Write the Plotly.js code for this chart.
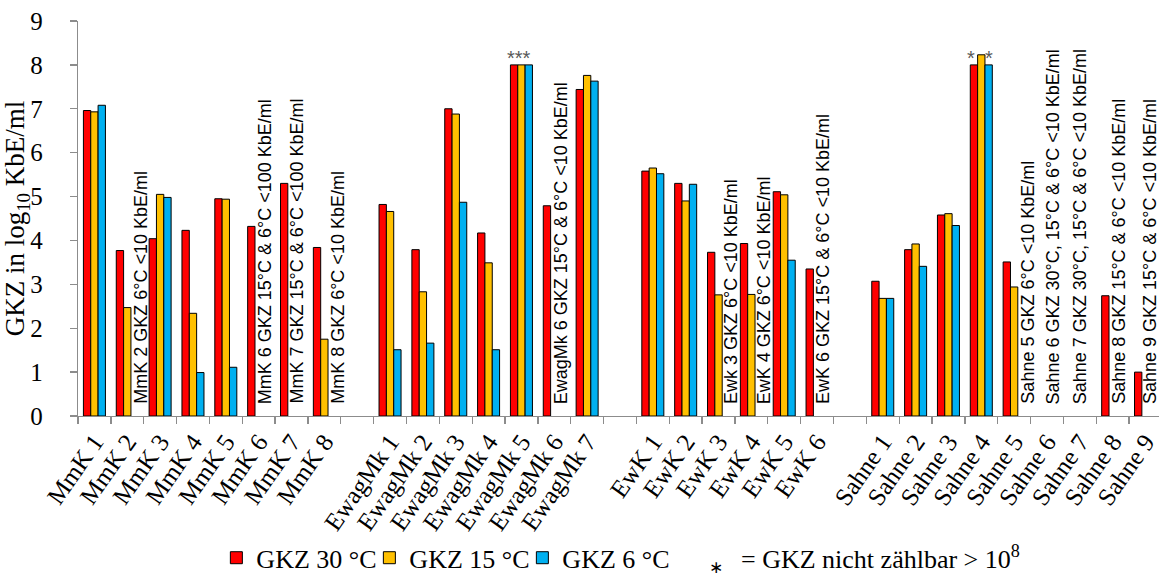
<!DOCTYPE html>
<html>
<head>
<meta charset="utf-8">
<script src="https://cdn.plot.ly/plotly-3.0.1.min.js"></script>
<style>
  html, body { margin: 0; padding: 0; background: #ffffff; }
  #chart { width: 1159px; height: 582px; }
</style>
</head>
<body>
<div id="chart"></div>
<script>
// Sample groups (categories)
var mmkCats   = ["MmK 1", "MmK 2", "MmK 3", "MmK 4", "MmK 5", "MmK 6", "MmK 7", "MmK 8"];
var ewagCats  = ["EwagMk 1", "EwagMk 2", "EwagMk 3", "EwagMk 4", "EwagMk 5", "EwagMk 6", "EwagMk 7"];
var ewkCats   = ["EwK 1", "EwK 2", "EwK 3", "EwK 4", "EwK 5", "EwK 6"];
var sahneCats = ["Sahne 1", "Sahne 2", "Sahne 3", "Sahne 4", "Sahne 5", "Sahne 6", "Sahne 7", "Sahne 8", "Sahne 9"];
// empty spacer categories between the sample groups
var spacerCats = [" ", "  ", "   "];

// GKZ in log10 KbE/ml, 30 °C / 15 °C / 6 °C
var mmk30 = [6.96, 3.77, 4.04, 4.23, 4.95, 4.32, 5.30, 3.84];
var mmk15 = [6.93, 2.47, 5.05, 2.34, 4.94, null, null, 1.75];
var mmk6  = [7.08, null, 4.98, 0.99, 1.11, null, null, null];

var ewag30 = [4.82, 3.79, 7.00, 4.17, 8.00, 4.79, 7.44];
var ewag15 = [4.66, 2.83, 6.88, 3.49, 8.00, null, 7.76];
var ewag6  = [1.51, 1.66, 4.87, 1.51, 8.00, null, 7.63];

var ewk30 = [5.58, 5.30, 3.73, 3.93, 5.11, 3.35];
var ewk15 = [5.65, 4.90, 2.76, 2.77, 5.04, null];
var ewk6  = [5.52, 5.28, null, null, 3.55, null];

var sahne30 = [3.07, 3.79, 4.58, 8.00, 3.51, null, null, 2.74, 1.00];
var sahne15 = [2.68, 3.92, 4.61, 8.23, 2.94, null, null, null, null];
var sahne6  = [2.68, 3.41, 4.34, 8.00, null, null, null, null, null];

var seriesNames = ["GKZ 30 °C", "GKZ 15 °C", "GKZ 6 °C"];
var yTickVals = [0, 1, 2, 3, 4, 5, 6, 7, 8, 9];

// notes for samples below the detection limit
var noteCats = ["MmK 2", "MmK 6", "MmK 7", "MmK 8", "EwagMk 6", "EwK 3", "EwK 4", "EwK 6",
                "Sahne 5", "Sahne 6", "Sahne 7", "Sahne 8", "Sahne 9"];
var noteTexts = [
  "MmK 2 GKZ 6°C &lt;10 KbE/ml",
  "MmK 6 GKZ 15°C &amp; 6°C &lt;100 KbE/ml",
  "MmK 7 GKZ 15°C &amp; 6°C &lt;100 KbE/ml",
  "MmK 8 GKZ 6°C &lt;10 KbE/ml",
  "EwagMk 6 GKZ 15°C &amp; 6°C &lt;10 KbE/ml",
  "Ewk 3 GKZ 6°C &lt;10 KbE/ml",
  "EwK 4 GKZ 6°C &lt;10 KbE/ml",
  "EwK 6 GKZ 15°C &amp; 6°C &lt;10 KbE/ml",
  "Sahne 5 GKZ 6°C &lt;10 KbE/ml",
  "Sahne 6 GKZ 30°C, 15°C &amp; 6°C &lt;10 KbE/ml",
  "Sahne 7 GKZ 30°C, 15°C &amp; 6°C &lt;10 KbE/ml",
  "Sahne 8 GKZ 15°C &amp; 6°C &lt;10 KbE/ml",
  "Sahne 9 GKZ 15°C &amp; 6°C &lt;10 KbE/ml"
];
// horizontal offsets of the note columns (px)
var noteShift = [13, 6, 4.5, 13, 7, 12, 13, 6, 13, 6, 0, 5.5, 4];

// "not countable" markers
var starCats  = ["EwagMk 5", "Sahne 4", "Sahne 4"];
var starTexts = ["***", "*", "*"];
var starVals  = [ewag30[4], sahne30[3], sahne6[3]];
var starShift = [-2, -10, 8];

var footStar = "\u2217";
var footText = "= GKZ nicht zählbar &gt; 10<sup>8</sup>";

var cats = [].concat(mmkCats, [spacerCats[0]], ewagCats, [spacerCats[1]], ewkCats, [spacerCats[2]], sahneCats);
function joinSeries(a, b, c, d) {
  return [].concat(a, [null], b, [null], c, [null], d);
}
var v30 = joinSeries(mmk30, ewag30, ewk30, sahne30);
var v15 = joinSeries(mmk15, ewag15, ewk15, sahne15);
var v6  = joinSeries(mmk6, ewag6, ewk6, sahne6);

var colors = ["#FF0000", "#FFC000", "#00B0F0"];
var traces = [v30, v15, v6].map(function (vals, i) {
  return {
    type: "bar",
    x: cats,
    y: vals,
    name: seriesNames[i],
    marker: { color: colors[i], line: { color: "#000000", width: 1 } },
    hoverinfo: "x+y"
  };
});

var serif = "Liberation Serif, Times New Roman, serif";
var sans = "Liberation Sans, Arial, sans-serif";

var annotations = [];
noteCats.forEach(function (c, i) {
  annotations.push({
    x: c, y: 0, xref: "x", yref: "y",
    text: noteTexts[i], showarrow: false, textangle: -90,
    xanchor: "center", yanchor: "bottom", xshift: noteShift[i], yshift: 10,
    font: { family: sans, size: 18, color: "#000000" }
  });
});
starCats.forEach(function (c, i) {
  annotations.push({
    x: c, y: starVals[i], xref: "x", yref: "y",
    text: starTexts[i], showarrow: false,
    xanchor: "center", yanchor: "bottom", xshift: starShift[i], yshift: -6,
    font: { family: sans, size: 20, color: "#595959" }
  });
});
annotations.push({
  xref: "paper", yref: "paper", x: 0.590, y: -0.359,
  xanchor: "center", yanchor: "middle", showarrow: false, yshift: -9,
  text: footStar,
  font: { family: "DejaVu Sans, sans-serif", size: 17, color: "#000000" }
});
annotations.push({
  xref: "paper", yref: "paper", x: 0.6115, y: -0.359,
  xanchor: "left", yanchor: "middle", showarrow: false,
  text: footText,
  font: { family: serif, size: 26, color: "#000000" }
});

var layout = {
  width: 1159, height: 582,
  margin: { l: 78, r: 0, t: 21, b: 166 },
  paper_bgcolor: "#ffffff", plot_bgcolor: "#ffffff",
  barmode: "group", bargap: 0.33, bargroupgap: 0,
  showlegend: true,
  legend: {
    orientation: "h", x: 0.128, y: -0.359, xanchor: "left", yanchor: "middle",
    font: { family: serif, size: 26, color: "#000000" },
    bgcolor: "rgba(0,0,0,0)", traceorder: "normal",
    itemwidth: 30, entrywidth: 108, entrywidthmode: "pixels"
  },
  xaxis: {
    type: "category", categoryorder: "array", categoryarray: cats,
    range: [-0.5, 32.41],
    tickson: "boundaries", ticks: "outside", ticklen: 7, tickwidth: 1.3, tickcolor: "#8c8c8c",
    showline: true, linecolor: "#8c8c8c", linewidth: 1.3,
    showgrid: false, zeroline: false,
    tickangle: -55,
    tickfont: { family: serif, size: 25, color: "#000000" }
  },
  yaxis: {
    range: [0, 9], tickvals: yTickVals, ticktext: yTickVals.map(String),
    ticks: "outside", ticklen: 7, tickwidth: 1.3, tickcolor: "#8c8c8c",
    showline: true, linecolor: "#8c8c8c", linewidth: 1.3,
    showgrid: false, zeroline: false,
    ticklabelstandoff: 22,
    tickfont: { family: serif, size: 25, color: "#000000" },
    title: { text: "GKZ in log<sub>10</sub> KbE/ml", standoff: 1,
             font: { family: serif, size: 27, color: "#000000" } }
  },
  annotations: annotations
};

Plotly.newPlot("chart", traces, layout, { displayModeBar: false, staticPlot: true });
</script>
</body>
</html>
